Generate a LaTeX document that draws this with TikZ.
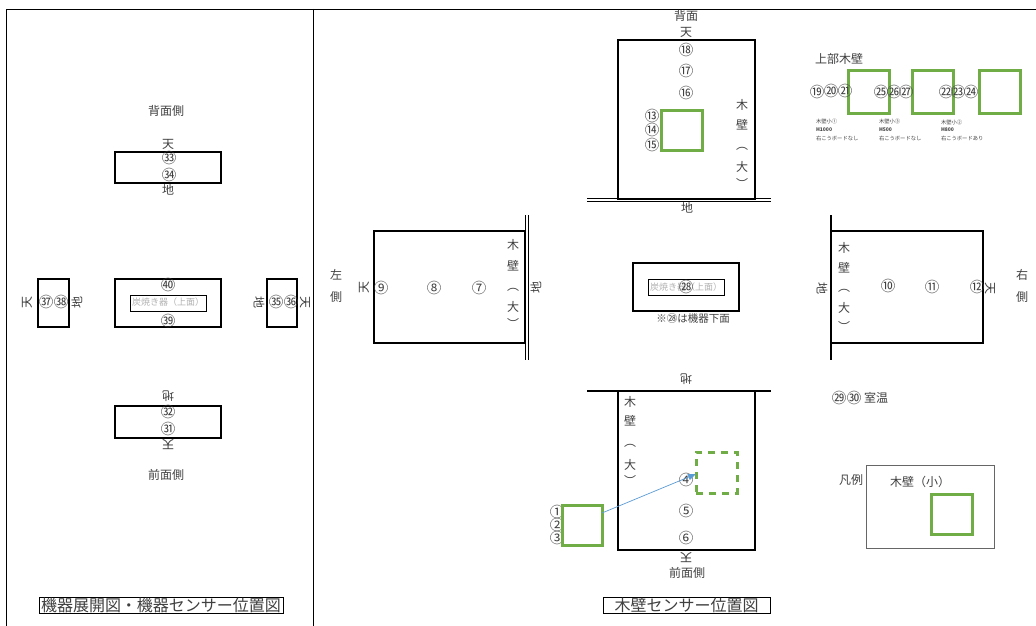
\documentclass[tikz,border=0pt]{standalone}
\usepackage{fontspec}
\setmainfont{Noto Sans CJK JP}
\usetikzlibrary{arrows.meta}
\definecolor{ink}{HTML}{404040}
\definecolor{grn}{HTML}{70AD47}
\definecolor{blu}{HTML}{5B9BD5}
\newcommand{\fs}[1]{\fontsize{#1}{#1}\selectfont}
\tikzset{
 x=1pt,y=-1pt,
 lab/.style={inner sep=0pt,outer sep=0pt,text=ink,font=\fs{12}},
 num/.style={lab,font=\fs{14.5}},
 tiny/.style={lab,anchor=west,font=\fs{5.3}},
 wall/.style={draw=black,line width=2pt},
 thinbox/.style={draw=black,line width=0.8pt},
 gbox/.style={draw=grn,line width=3pt},
 gdash/.style={draw=grn,line width=3pt,dash pattern=on 7pt off 6pt},
 sep/.style={draw=black,line width=0.9pt},
}
\newcommand{\bx}[6]{\node[#6,inner sep=0pt,outer sep=0pt,minimum width={(#4)-(#2)},minimum height={(#5)-(#3)}] (#1) at ({((#2)+(#4))/2},{((#3)+(#5))/2}) {};}
\newcommand{\tx}[5][lab]{\node[#1] (#2) at (#3,#4) {#5};}
\begin{document}
\begin{tikzpicture}
\useasboundingbox (0,0) rectangle (1036,626);
\fill[white] (0,0) rectangle (1036,626);
% frame
\coordinate (fa) at (6.5,9);\coordinate (fb) at (1036,9);\coordinate (fc) at (6.5,626);
\coordinate (fd) at (313,9);\coordinate (fe) at (313,626);
\draw[sep] (fc)--(fa)--(fb);
\draw[sep] (fd)--(fe);
% left panel
\bx{pb}{115}{152}{221}{183}{wall}
\bx{pc}{115}{279}{221}{327}{wall}
\bx{pl}{38}{279}{69}{327}{wall}
\bx{pr}{267}{279}{297}{327}{wall}
\bx{pi}{130.5}{295}{206.5}{311}{thinbox}
\bx{pf}{115}{406}{221}{438}{wall}
\tx{a1}{166}{111}{背面側}
\tx{a2}{168}{144}{天}
\tx[num]{a3}{169}{158}{㉝}
\tx[num]{a4}{169}{175}{㉞}
\tx{a5}{168}{190}{地}
\tx[num]{a6}{168}{285}{㊵}
\tx[num]{a7}{168}{321}{㊴}
\tx[lab,text=black!30,font=\fs{9}]{a8}{168}{302.5}{炭焼き器（上面）}
\tx[num]{a9}{46}{302}{㊲}
\tx[num]{a10}{61}{302}{㊳}
\tx[lab,rotate=90]{a11}{27}{302}{天}
\tx[lab,rotate=90]{a12}{77}{302}{地}
\tx[num]{a13}{276}{302}{㉟}
\tx[num]{a14}{291}{302}{㊱}
\tx[lab,rotate=-90]{a15}{259}{302}{地}
\tx[lab,rotate=-90]{a16}{305}{302}{天}
\tx[lab,rotate=180]{a17}{168}{396}{地}
\tx[num]{a18}{168}{412}{㉜}
\tx[num]{a19}{168}{429}{㉛}
\tx[lab,rotate=180]{a20}{168}{445}{天}
\tx{a21}{166}{475}{前面側}
\bx{t1}{39}{597}{283}{613}{thinbox}
\tx[lab,font=\fs{16}]{t1t}{161}{605}{機器展開図・機器センサー位置図}
% top wall
\bx{wt}{618}{40}{755}{199}{wall}
\coordinate (d1) at (587,198.5);\coordinate (d2) at (771,198.5);
\coordinate (d3) at (587,201);\coordinate (d4) at (771,201);
\draw[sep] (d1)--(d2);\draw[sep] (d3)--(d4);
\bx{g1}{661}{110}{702}{150}{gbox}
\tx{b1}{686}{16}{背面}
\tx{b2}{686}{32}{天}
\tx[num]{b3}{686}{50}{⑱}
\tx[num]{b4}{686}{71}{⑰}
\tx[num]{b5}{686}{93}{⑯}
\tx[num]{b6}{652}{116}{⑬}
\tx[num]{b7}{652}{130}{⑭}
\tx[num]{b8}{652}{145}{⑮}
\tx{b9}{687}{208}{地}
\tx{c1}{742}{105}{木}\tx{c2}{742}{125}{壁}\tx{c3}{742}{149}{︵}\tx{c4}{742}{167}{大}\tx{c5}{742}{183}{︶}
% left wall
\bx{wl}{374}{231}{525}{343}{wall}
\coordinate (e1) at (525.5,215);\coordinate (e2) at (525.5,360);
\coordinate (e3) at (528,215);\coordinate (e4) at (528,360);
\draw[sep] (e1)--(e2);\draw[sep] (e3)--(e4);
\tx{f1}{336}{275}{左}\tx{f2}{336}{297}{側}
\tx[lab,rotate=90]{f3}{364}{287}{天}
\tx[num]{f4}{381}{288}{⑨}
\tx[num]{f5}{434}{288}{⑧}
\tx[num]{f6}{479}{288}{⑦}
\tx[lab,rotate=90]{f7}{536}{287}{地}
\tx{h1}{513}{245}{木}\tx{h2}{513}{266}{壁}\tx{h3}{513}{290}{︵}\tx{h4}{513}{307}{大}\tx{h5}{513}{323}{︶}
% centre
\bx{cc}{633}{263}{739}{311}{wall}
\bx{ci}{648}{279}{724}{295}{thinbox}
\tx[lab,text=black!30,font=\fs{9}]{i1}{686}{287}{炭焼き器（上面）}
\tx[num]{i2}{686}{287}{㉘}
\tx[lab,font=\fs{10.5}]{i3}{693}{319}{※㉘は機器下面}
% right wall
\bx{wr}{831}{231}{983}{343}{wall}
\coordinate (j1) at (831,215);\coordinate (j2) at (831,360);
\draw[wall] (j1)--(j2);
\tx[lab,rotate=-90]{k1}{822}{288}{地}
\tx[num]{k2}{888}{286}{⑩}
\tx[num]{k3}{932}{287}{⑪}
\tx[num]{k4}{977}{287}{⑫}
\tx[lab,rotate=-90]{k5}{990}{288}{天}
\tx{k6}{1022}{275}{右}\tx{k7}{1022}{297}{側}
\tx{m1}{844}{248}{木}\tx{m2}{844}{268}{壁}\tx{m3}{844}{291}{︵}\tx{m4}{844}{308}{大}\tx{m5}{844}{326}{︶}
% bottom wall
\bx{wb}{618}{391}{755}{550}{wall}
\coordinate (n1) at (587,391);\coordinate (n2) at (771,391);
\draw[wall] (n1)--(n2);
\tx[lab,rotate=180]{o1}{686}{379}{地}
\tx[num]{o2}{686}{480}{④}
\tx[num]{o3}{686}{511}{⑤}
\tx[num]{o4}{686}{538}{⑥}
\tx[num]{o5}{557}{512}{①}
\tx[num]{o6}{557}{525}{②}
\tx[num]{o7}{557}{538}{③}
\tx[lab,rotate=180]{o8}{686}{558}{天}
\tx{o9}{687}{573}{前面側}
\tx{p1}{630}{402}{木}\tx{p2}{630}{421}{壁}\tx{p3}{630}{446}{︵}\tx{p4}{630}{465}{大}\tx{p5}{630}{480}{︶}
\bx{g2}{562}{505}{602}{545}{gbox}
\bx{g3}{696}{452}{737}{493}{gdash}
\draw[blu,line width=0.7pt,-{Triangle[length=8pt,width=6pt]}] ([yshift=12pt]g2.east) -- ([yshift=-1.5pt]g3.west);
\bx{t2}{603}{597}{770}{613}{thinbox}
\tx[lab,font=\fs{16}]{t2t}{686.5}{605}{木壁センサー位置図}
% upper walls
\tx{q1}{839}{59}{上部木壁}
\bx{g4}{848}{71}{889}{113}{gbox}
\bx{g5}{912}{71}{953}{113}{gbox}
\bx{g6}{979}{71}{1020}{113}{gbox}
\tx[num]{q2}{817}{92}{⑲}
\tx[num]{q3}{831}{91}{⑳}
\tx[num]{q4}{845}{91}{㉑}
\tx[num]{q5}{881}{92}{㉕}
\tx[num]{q6}{894}{92}{㉖}
\tx[num]{q7}{906}{92}{㉗}
\tx[num]{q8}{946}{92}{㉒}
\tx[num]{q9}{958}{92}{㉓}
\tx[num]{q10}{971}{92}{㉔}
\tx[tiny]{r1}{816}{121}{木壁小①}
\tx[tiny,font=\fs{5}\bfseries]{r2}{816}{130}{H1000}
\tx[tiny]{r3}{816}{138}{右こうボードなし}
\tx[tiny]{r4}{879}{121}{木壁小③}
\tx[tiny,font=\fs{5}\bfseries]{r5}{879}{130}{H500}
\tx[tiny]{r6}{879}{138}{右こうボードなし}
\tx[tiny]{r7}{941}{122}{木壁小②}
\tx[tiny,font=\fs{5}\bfseries]{r8}{941}{130}{H800}
\tx[tiny]{r9}{941}{138}{右こうボードあり}
% legend
\tx[num]{s0a}{839}{398}{㉙}
\tx[num]{s0b}{854}{398}{㉚}
\tx{s1}{876}{398}{室温}
\tx{s2}{851}{480}{凡例}
\bx{lg}{866}{465}{994}{548}{draw=black!60,line width=0.6pt}
\tx{s3}{920}{482}{木壁（小）}
\bx{g7}{931}{494}{972}{534}{gbox}
\end{tikzpicture}
\end{document}
